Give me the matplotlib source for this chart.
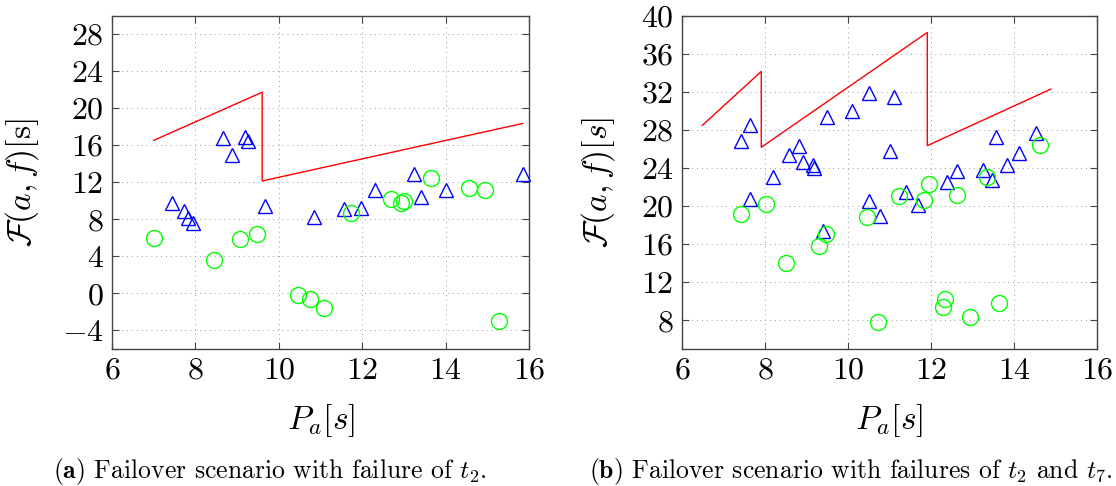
import numpy as np
import matplotlib
matplotlib.use("Agg")
import matplotlib.pyplot as plt

plt.rcParams['font.family'] = 'cmr10'
plt.rcParams['mathtext.fontset'] = 'cm'
plt.rcParams['axes.formatter.use_mathtext'] = True

# (a) failure of t2
bound_a_x = [7.0, 9.6, 9.6, 15.85]
bound_a_y = [16.52, 21.72, 12.14, 18.35]
tri_a_x = [7.43, 7.73, 7.82, 7.93, 8.66, 8.88, 9.18, 9.26, 9.66, 10.85, 11.55, 11.98, 12.31, 13.25, 13.42, 14.0, 15.85]
tri_a_y = [9.81, 8.88, 8.13, 7.59, 16.81, 14.91, 16.91, 16.45, 9.45, 8.20, 9.09, 9.17, 11.14, 12.93, 10.46, 11.17, 12.86]
circ_a_x = [7.0, 8.44, 9.08, 9.47, 10.47, 10.74, 11.09, 11.73, 12.70, 12.94, 12.99, 13.65, 14.55, 14.95, 15.29]
circ_a_y = [5.97, 3.61, 5.90, 6.40, -0.16, -0.59, -1.60, 8.70, 10.17, 9.81, 9.96, 12.50, 11.35, 11.14, -3.03]

# (b) failures of t2 and t7
bound_b_x = [6.49, 7.91, 7.91, 11.91, 11.91, 14.89]
bound_b_y = [28.47, 34.13, 26.17, 38.22, 26.34, 32.28]
tri_b_x = [7.41, 7.65, 7.65, 8.20, 8.58, 8.83, 8.92, 9.16, 9.17, 9.39, 9.49, 10.10, 10.50, 10.50, 10.76,
           11.0, 11.10, 11.40, 11.69, 12.38, 12.63, 13.25, 13.48, 13.57, 13.83, 14.13, 14.52]
tri_b_y = [26.83, 28.54, 20.75, 23.06, 25.40, 26.31, 24.59, 24.28, 24.0, 17.36, 29.34, 29.94, 31.86, 20.51, 19.0,
           25.75, 31.44, 21.45, 20.09, 22.50, 23.65, 23.82, 22.78, 27.21, 24.35, 25.57, 27.67]
circ_b_x = [7.42, 8.03, 8.50, 9.29, 9.47, 10.45, 10.73, 11.23, 11.82, 11.94, 12.29, 12.33, 12.63, 12.94, 13.34, 13.63, 14.62]
circ_b_y = [19.18, 20.26, 14.04, 15.86, 17.08, 18.86, 7.83, 21.03, 20.68, 22.32, 9.40, 10.20, 21.20, 8.31, 23.06, 9.82, 26.45]

fig = plt.figure(figsize=(11.16, 4.86), dpi=100)
ax1 = fig.add_axes([0.1004, 0.2819, 0.3737, 0.6862])
ax2 = fig.add_axes([0.6111, 0.2819, 0.3719, 0.6862])

panels = [
    (ax1, bound_a_x, bound_a_y, tri_a_x, tri_a_y, circ_a_x, circ_a_y, (-6, 30), np.arange(-4, 29, 4), -0.17,
     r'$\mathcal{F}(a,f)[\mathrm{s}]$'),
    (ax2, bound_b_x, bound_b_y, tri_b_x, tri_b_y, circ_b_x, circ_b_y, (5, 40), np.arange(8, 41, 4), -0.157,
     r'$\mathcal{F}(a,f)[s]$'),
]
for ax, bx, by, tx, ty, cx, cy, ylim, yt, ylab_x, ylab in panels:
    ax.plot(bx, by, color='red', lw=1.0, zorder=3)
    ax.plot(tx, ty, ls='none', marker='^', ms=10, mfc='none', mec='blue', mew=1.0, zorder=4, clip_on=False)
    ax.plot(cx, cy, ls='none', marker='o', ms=11.5, mfc='none', mec='#00ff00', mew=1.0, zorder=4, clip_on=False)
    ax.set_xlim(6, 16)
    ax.set_ylim(*ylim)
    ax.set_xticks(np.arange(6, 17, 2))
    ax.set_yticks(yt)
    ax.grid(True, ls=(0, (1, 4)), color='#999999', lw=0.7)
    ax.tick_params(direction='in', top=True, right=True, labelsize=23, length=5, width=0.8, pad=6, color='#444444')
    for s in ax.spines.values():
        s.set_color('#444444')
        s.set_linewidth(1.0)
    ax.set_xlabel(r'$P_a[s]$', fontsize=24)
    ax.set_ylabel(ylab, fontsize=24)
    ax.xaxis.set_label_coords(0.5, -0.159)
    ax.yaxis.set_label_coords(ylab_x, 0.5)

fig.text(0.2415, 0.0165, r'$\mathbf{(a)}$ Failover scenario with failure of $t_2$.', ha='center', fontsize=18.5)
fig.text(0.7625, 0.0165, r'$\mathbf{(b)}$ Failover scenario with failures of $t_2$ and $t_7$.', ha='center', fontsize=18.5)

fig.savefig('out.png', dpi=100)
